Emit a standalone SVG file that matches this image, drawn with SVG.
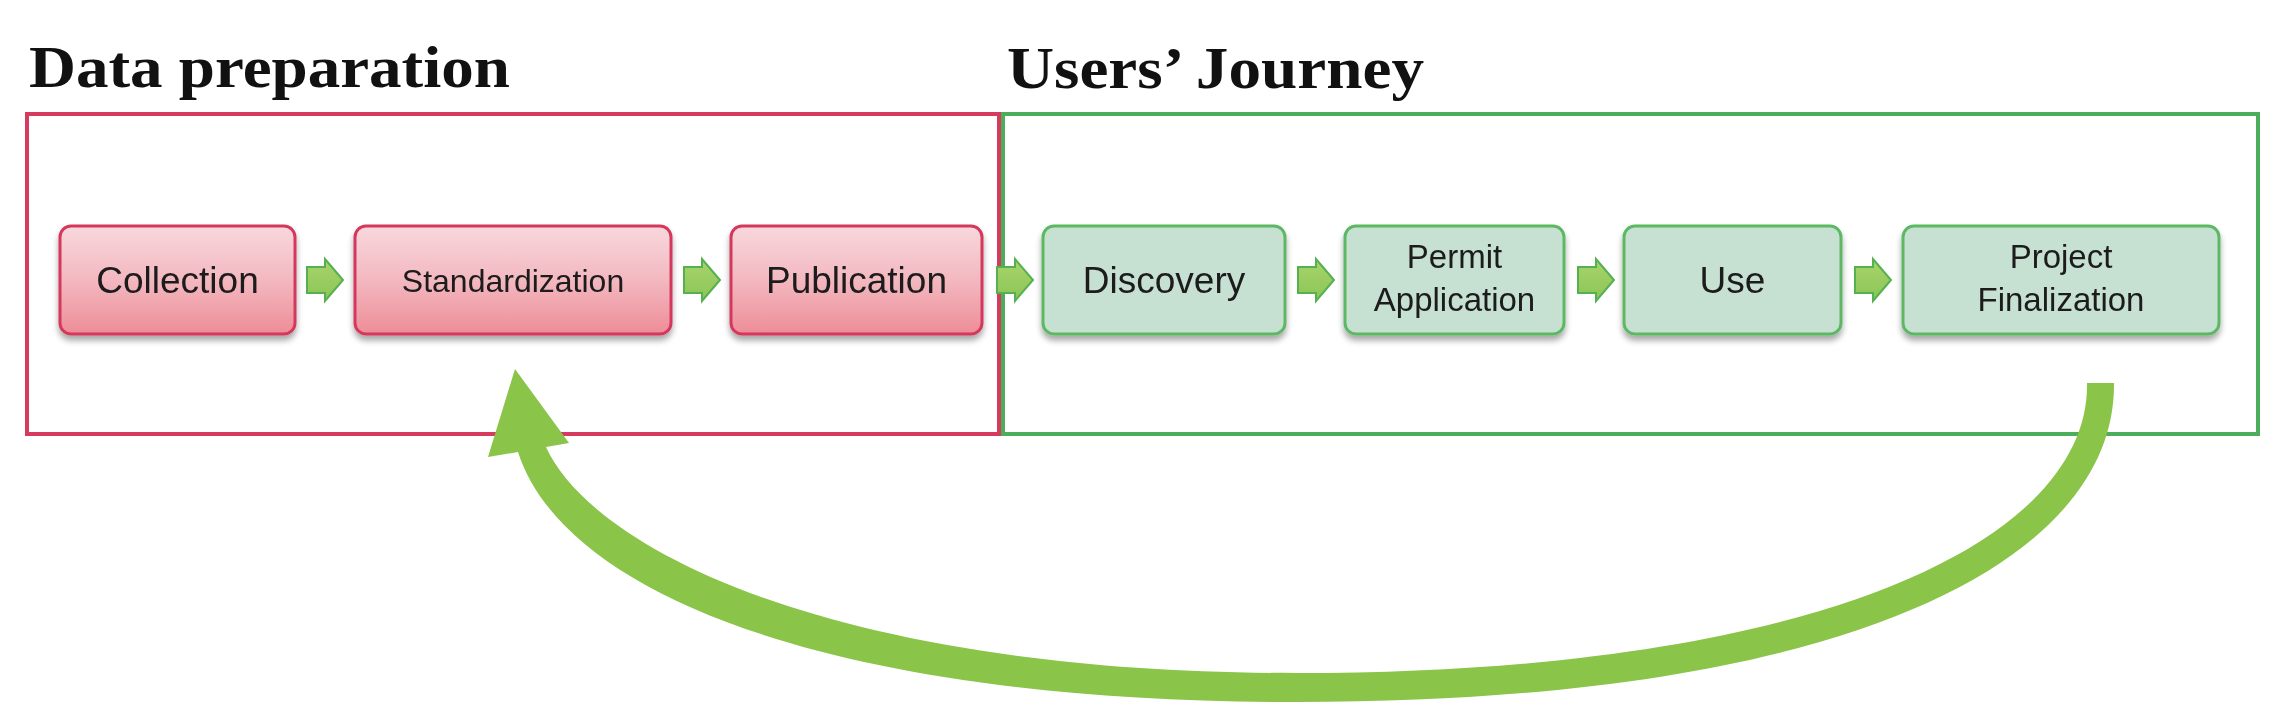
<svg xmlns="http://www.w3.org/2000/svg" width="2288" height="724" viewBox="0 0 2288 724">
<style>
.title{font-family:"Liberation Serif","DejaVu Serif",serif;font-weight:bold;font-size:60px;fill:#111}
.lbl{font-family:"Liberation Sans",Arial,sans-serif;fill:#1a1a1a;text-anchor:middle}
.big{font-size:37px}
.med{font-size:33px}
.sm{font-size:32px}
.rnode{fill:url(#rgrad);stroke:#d4395c;stroke-width:3}
.gnode{fill:#c6e0d2;stroke:#5cb862;stroke-width:3}
.step{fill:url(#agrad);stroke:#55b04f;stroke-width:2;stroke-linejoin:miter}
</style>
<defs>
<linearGradient id="rgrad" x1="0" y1="0" x2="0" y2="1">
<stop offset="0" stop-color="#f8d8dd"/>
<stop offset="0.5" stop-color="#f3b8c0"/>
<stop offset="1" stop-color="#ee8d97"/>
</linearGradient>
<linearGradient id="agrad" x1="0" y1="0" x2="0" y2="1">
<stop offset="0" stop-color="#a8d46c"/>
<stop offset="1" stop-color="#8cc556"/>
</linearGradient>
<filter id="sh" x="-10%" y="-10%" width="120%" height="140%">
<feGaussianBlur in="SourceAlpha" stdDeviation="3"/>
<feOffset dx="0" dy="5" result="b"/>
<feComponentTransfer><feFuncA type="linear" slope="0.35"/></feComponentTransfer>
<feMerge><feMergeNode/><feMergeNode in="SourceGraphic"/></feMerge>
</filter>
<path id="step" d="M0,-13 H18 V-21 L36,0 L18,21 V13 H0 Z"/>
</defs>
<rect width="2288" height="724" fill="#ffffff"/>

<g id="group-data-preparation">
<text class="title" x="29" y="87" textLength="481" lengthAdjust="spacingAndGlyphs">Data preparation</text>
<rect x="27" y="114" width="972" height="320" fill="none" stroke="#d63a5e" stroke-width="4"/>
</g>
<g id="group-users-journey">
<text class="title" x="1007" y="88" textLength="417" lengthAdjust="spacingAndGlyphs">Users’ Journey</text>
<rect x="1003" y="114" width="1255" height="320" fill="none" stroke="#4cae5a" stroke-width="4"/>
</g>

<g id="node-collection" filter="url(#sh)">
<rect class="rnode" x="60" y="226" width="235" height="108" rx="11"/>
<text class="lbl big" x="177.5" y="293">Collection</text>
</g>
<g id="node-standardization" filter="url(#sh)">
<rect class="rnode" x="355" y="226" width="316" height="108" rx="11"/>
<text class="lbl sm" x="513" y="292">Standardization</text>
</g>
<g id="node-publication" filter="url(#sh)">
<rect class="rnode" x="731" y="226" width="251" height="108" rx="11"/>
<text class="lbl big" x="856.5" y="293">Publication</text>
</g>
<g id="node-discovery" filter="url(#sh)">
<rect class="gnode" x="1043" y="226" width="242" height="108" rx="11"/>
<text class="lbl big" x="1164" y="293">Discovery</text>
</g>
<g id="node-permit-application" filter="url(#sh)">
<rect class="gnode" x="1345" y="226" width="219" height="108" rx="11"/>
<text class="lbl med" x="1454.5" y="268">Permit</text>
<text class="lbl med" x="1454.5" y="311">Application</text>
</g>
<g id="node-use" filter="url(#sh)">
<rect class="gnode" x="1624" y="226" width="217" height="108" rx="11"/>
<text class="lbl big" x="1732.5" y="293">Use</text>
</g>
<g id="node-project-finalization" filter="url(#sh)">
<rect class="gnode" x="1903" y="226" width="316" height="108" rx="11"/>
<text class="lbl med" x="2061" y="268">Project</text>
<text class="lbl med" x="2061" y="311">Finalization</text>
</g>

<g id="connectors">
<use href="#step" class="step" x="307" y="280"/>
<use href="#step" class="step" x="684" y="280"/>
<use href="#step" class="step" x="997" y="280"/>
<use href="#step" class="step" x="1298" y="280"/>
<use href="#step" class="step" x="1578" y="280"/>
<use href="#step" class="step" x="1855" y="280"/>
<path id="feedback-arrow" fill="#8ac449" d="M2114,383 C2116,560 1850,702 1297,702 C820,702 562,590 518,452 L488,457 L515,369 L569,443 L546,447 C592,548 830,673 1297,673 C1820,673 2090,540 2087,383 Z"/>
</g>
</svg>
